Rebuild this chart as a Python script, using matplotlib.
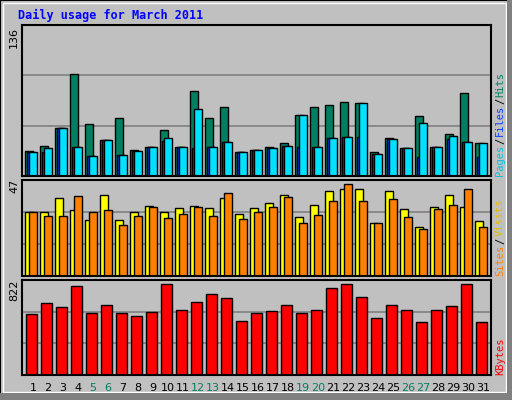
import matplotlib
matplotlib.use("Agg")
import matplotlib.pyplot as plt
import numpy as np
from matplotlib.patches import Rectangle

days = list(range(1, 32))
weekend = [5, 6, 12, 13, 19, 20, 26, 27]
hits = [127, 132, 148, 198, 152, 137, 157, 128, 131, 146, 131, 182, 157, 167, 126, 128,
        131, 134, 160, 167, 169, 172, 171, 126, 139, 130, 159, 131, 143, 180, 134]
pages = [126, 130, 148, 131, 122, 137, 123, 127, 131, 139, 131, 166, 131, 135, 126, 128,
         130, 132, 160, 131, 139, 140, 171, 124, 138, 130, 153, 131, 141, 135, 134]
files = [126, 126, 148, 131, 122, 137, 123, 127, 131, 136, 131, 130, 131, 135, 126, 128,
         130, 132, 131, 131, 139, 140, 140, 124, 138, 130, 121, 131, 138, 135, 121]
hits = [h - 104 for h in hits]
pages = [p - 104 for p in pages]
files = [f - 104 for f in files]
visits = [31.1, 31.1, 38.0, 32.1, 27.2, 39.9, 27.2, 31.1, 34.1, 31.1, 33.1, 34.1, 33.1, 38.0, 30.2, 33.1,
          35.6, 39.5, 28.7, 34.6, 41.4, 42.4, 42.4, 25.8, 41.4, 32.6, 23.8, 33.6, 39.5, 33.6, 26.8]
sites = [31.1, 29.2, 29.2, 39.0, 31.1, 32.1, 24.8, 29.2, 33.6, 28.2, 30.2, 33.6, 29.2, 40.4, 27.7, 31.1,
         33.6, 38.5, 25.8, 29.7, 36.5, 44.9, 36.5, 25.8, 37.5, 28.7, 22.8, 32.6, 34.6, 42.4, 23.8]
kbytes = [550, 653, 611, 803, 557, 628, 557, 532, 565, 819, 585, 662, 731, 697, 491, 557,
          574, 628, 557, 591, 782, 822, 707, 512, 628, 591, 483, 591, 625, 822, 475]

BG = "#C0C0C0"
fig = plt.figure(figsize=(5.12, 4.0), dpi=100, facecolor=BG)

def px_axes(x0, y0, x1, y1):
    return fig.add_axes([x0 / 512, 1 - y1 / 400, (x1 - x0) / 512, (y1 - y0) / 400])

fig.patches.append(Rectangle((0, 0), 1, 1, transform=fig.transFigure, fill=False, ec="black", lw=1.5))
fig.patches.append(Rectangle((3/512, 8/400), 503/512, 389/400, transform=fig.transFigure, fill=False, ec="white", lw=1))
fig.patches.append(Rectangle((0, 0), 1, 7/400, transform=fig.transFigure, fc="#808080", ec="none"))
fig.patches.append(Rectangle((507/512, 0), 5/512, 1, transform=fig.transFigure, fc="#808080", ec="none"))

xl = ((22 - 33) / 15 + 1, (491 - 33) / 15 + 1)
pw = 1 / 15.0
x = np.array(days, dtype=float)

def style(ax, ymax):
    ax.set_facecolor(BG)
    ax.set_xlim(*xl)
    ax.set_ylim(0, ymax)
    for v in (ymax / 3, 2 * ymax / 3):
        ax.axhline(v, color="#808080", lw=1.2, zorder=0)
    ax.set_xticks([]); ax.set_yticks([])
    for s in ax.spines.values():
        s.set_linewidth(1.5); s.set_color("black")

ax1 = px_axes(22, 25, 491, 176)
style(ax1, 136 * 151 / 148)
kw = dict(edgecolor="black", linewidth=1, align="edge", width=8 * pw)
ax1.bar(x - 8 * pw, hits, color="#008060", **kw)
ax1.bar(x - 6 * pw, files, color="#0040FF", **kw)
ax1.bar(x - 4 * pw, pages, color="#00E0FF", **kw)

ax2 = px_axes(22, 180, 491, 276)
style(ax2, 47)
ax2.bar(x - 8 * pw, visits, color="#FFFF00", **kw)
ax2.bar(x - 4 * pw, sites, color="#FF8000", **kw)

ax3 = px_axes(22, 280, 491, 375)
style(ax3, 822 * 95 / 91)
ax3.bar(x - 7 * pw, kbytes, color="#FF0000", edgecolor="black", linewidth=1, align="edge", width=11 * pw)

for d in days:
    fig.text((33 + 15 * (d - 1)) / 512, 1 - 388 / 400, str(d), ha="center", va="center",
             fontsize=8, color="#008060" if d in weekend else "black")

mono = "DejaVu Sans Mono"
fig.text(18 / 512, 1 - 15 / 400, "Daily usage for March 2011", color="#0000FF",
         fontsize=8.5, fontweight="bold", family=mono, va="center")
for txt, yy in (("136", 37), ("47", 186), ("822", 290)):
    fig.text(14 / 512, 1 - yy / 400, txt, rotation=90, ha="center", va="center", fontsize=8)

def vlabel(parts, ybottom, fs=7.5):
    step = fs * 100 / 72 * 0.602
    y = ybottom
    for t, c in parts:
        fig.text(500 / 512, 1 - y / 400, t, rotation=90, ha="center", va="bottom",
                 color=c, fontsize=fs, family=mono, rotation_mode="default")
        y -= len(t) * step + 1

vlabel([("Pages", "#00C0E0"), ("/", "black"), ("Files", "#0040FF"), ("/", "black"), ("Hits", "#008060")], 176)
vlabel([("Sites", "#FF8000"), ("/", "black"), ("Visits", "#E0C000")], 276)
vlabel([("KBytes", "#FF0000")], 375)

fig.savefig("out.png", dpi=100, facecolor=BG)
